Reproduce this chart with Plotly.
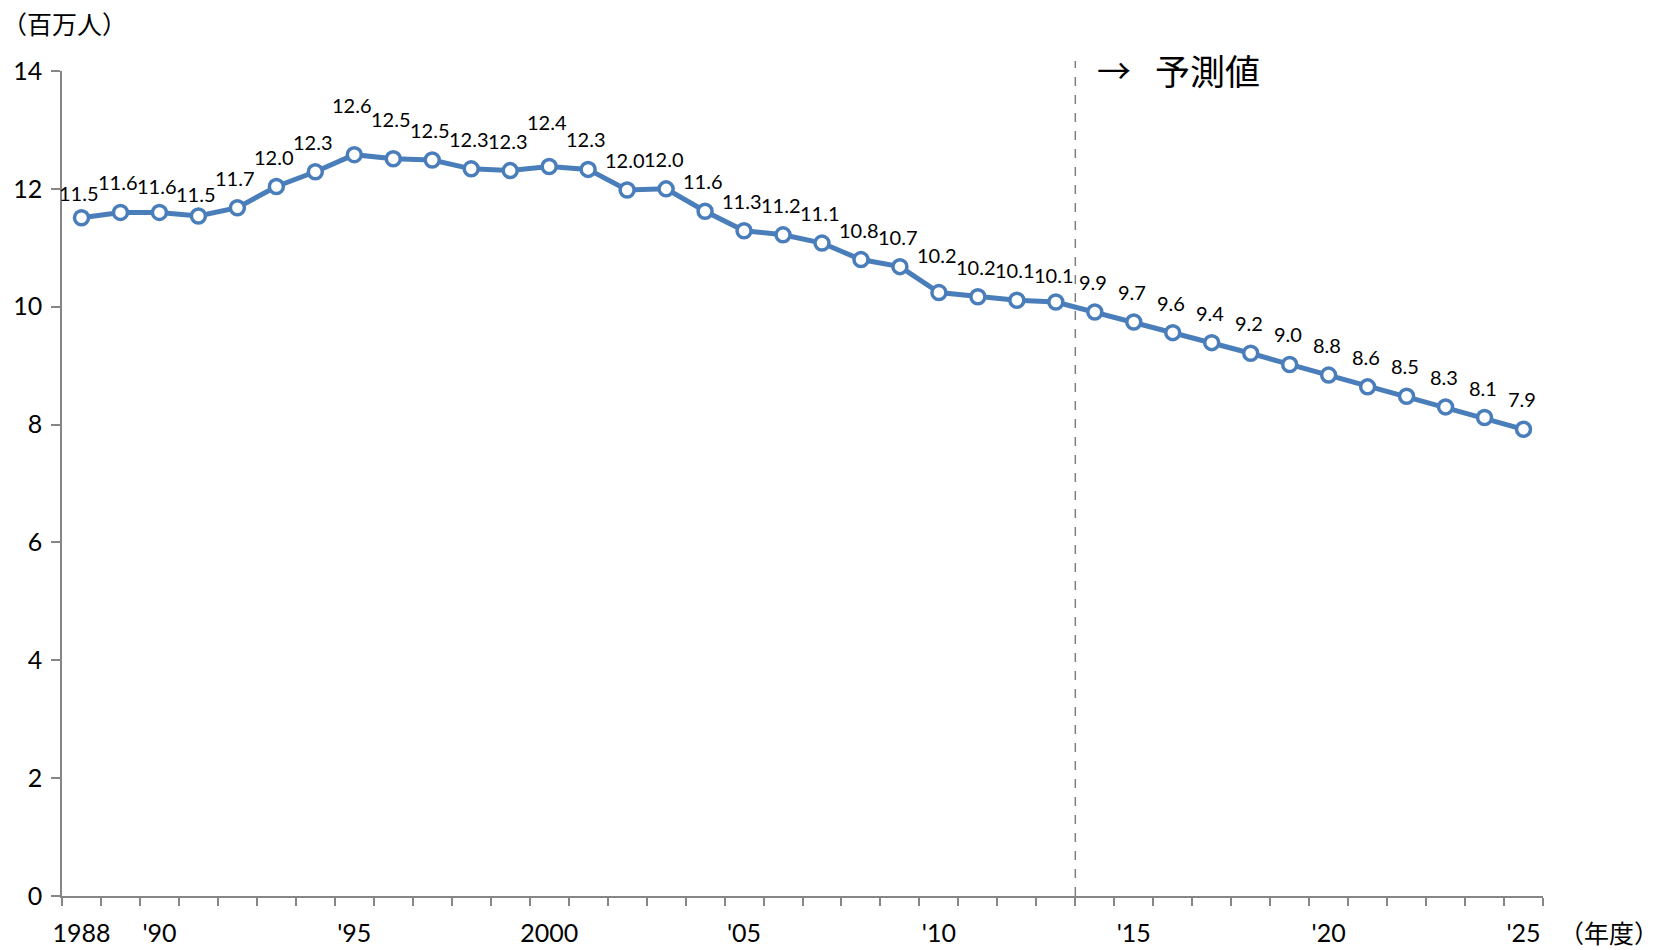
import plotly.graph_objects as go

# Fiscal years and population (millions); 2014 onward are projections
years = list(range(1988, 2026))
population = [
    11.51, 11.60, 11.60, 11.54, 11.68, 12.04, 12.29, 12.58, 12.51, 12.49,
    12.34, 12.31, 12.38, 12.33, 11.98, 12.00, 11.62, 11.29, 11.22, 11.08,
    10.80, 10.68, 10.24, 10.17, 10.11, 10.08, 9.91, 9.74, 9.56, 9.39,
    9.21, 9.02, 8.84, 8.64, 8.48, 8.30, 8.12, 7.92,
]
tick_years = [1988, 1990, 1995, 2000, 2005, 2010, 2015, 2020, 2025]
tick_text = ["1988", "'90", "'95", "2000", "'05", "'10", "'15", "'20", "'25"]
forecast_start = 2014

LINE_BLUE = "#4a7ebb"
AXIS_GRAY = "#868686"
NUM_FONT = "Lato, Liberation Sans, sans-serif"
JP_FONT = "Noto Sans CJK JP, sans-serif"

# extra lift (px) for a few value labels so neighbours do not collide
label_nudge = {1988: -5, 1990: -4, 1991: -8, 1995: 20, 1996: 10,
               2000: 14, 2010: 8, 2013: -3}

fig = go.Figure()
fig.add_trace(go.Scatter(
    x=years, y=population, mode="lines+markers",
    line=dict(color=LINE_BLUE, width=5),
    marker=dict(size=14, color="white", line=dict(color=LINE_BLUE, width=3.5)),
    hoverinfo="x+y", showlegend=False,
))

annotations = []
for yr, v in zip(years, population):
    annotations.append(dict(
        x=yr, y=v, xref="x", yref="y", text=f"{v:.1f}", showarrow=False,
        xanchor="center", yanchor="middle", xshift=-2,
        yshift=30 + label_nudge.get(yr, 0),
        font=dict(family=NUM_FONT, size=20, color="black"),
    ))

# forecast marker: arrow and caption to the right of the dashed divider
annotations.append(dict(
    x=forecast_start - 0.5, y=14, xref="x", yref="y", text="→",
    showarrow=False, xanchor="left", yanchor="middle", xshift=20, yshift=2,
    font=dict(family=JP_FONT, size=34, color="black"),
))
annotations.append(dict(
    x=forecast_start - 0.5, y=14, xref="x", yref="y", text="予測値",
    showarrow=False, xanchor="left", yanchor="middle", xshift=78, yshift=2,
    font=dict(family=JP_FONT, size=35, color="black"),
))
# unit labels
annotations.append(dict(
    x=0, y=1, xref="paper", yref="paper", text="（百万人）", showarrow=False,
    xanchor="left", yanchor="middle", xshift=-62, yshift=48,
    font=dict(family=JP_FONT, size=25, color="black"),
))
annotations.append(dict(
    x=1, y=0, xref="paper", yref="paper", text="（年度）", showarrow=False,
    xanchor="left", yanchor="middle", xshift=14, yshift=-36,
    font=dict(family=JP_FONT, size=25, color="black"),
))

fig.update_layout(
    width=1679, height=950,
    margin=dict(l=62, r=136, t=71, b=54),
    paper_bgcolor="white", plot_bgcolor="white",
    annotations=annotations,
    shapes=[dict(
        type="line", xref="x", yref="paper",
        x0=forecast_start - 0.5, x1=forecast_start - 0.5, y0=0, y1=1.012,
        line=dict(color="#7f7f7f", width=1.5, dash="dash"),
    )],
)

fig.update_xaxes(
    range=[years[0] - 0.5, years[-1] + 0.5], automargin=False,
    tickmode="array", tickvals=tick_years, ticktext=tick_text,
    ticks="", showgrid=False, zeroline=False,
    showline=True, linecolor=AXIS_GRAY, linewidth=1.5,
    tickfont=dict(family=NUM_FONT, size=25, color="black"),
    ticklabelstandoff=14,
    minor=dict(tick0=years[0] - 0.5, dtick=1, ticks="outside",
               ticklen=8, tickwidth=1.5, tickcolor=AXIS_GRAY, showgrid=False),
)
fig.update_yaxes(
    range=[0, 14], dtick=2, ticks="outside", ticklen=9, tickwidth=1.5,
    tickcolor=AXIS_GRAY, showgrid=False, zeroline=False, automargin=False,
    showline=True, linecolor=AXIS_GRAY, linewidth=1.5,
    tickfont=dict(family=NUM_FONT, size=25, color="black"),
    ticklabelstandoff=4,
)

fig.write_html("out.html")
